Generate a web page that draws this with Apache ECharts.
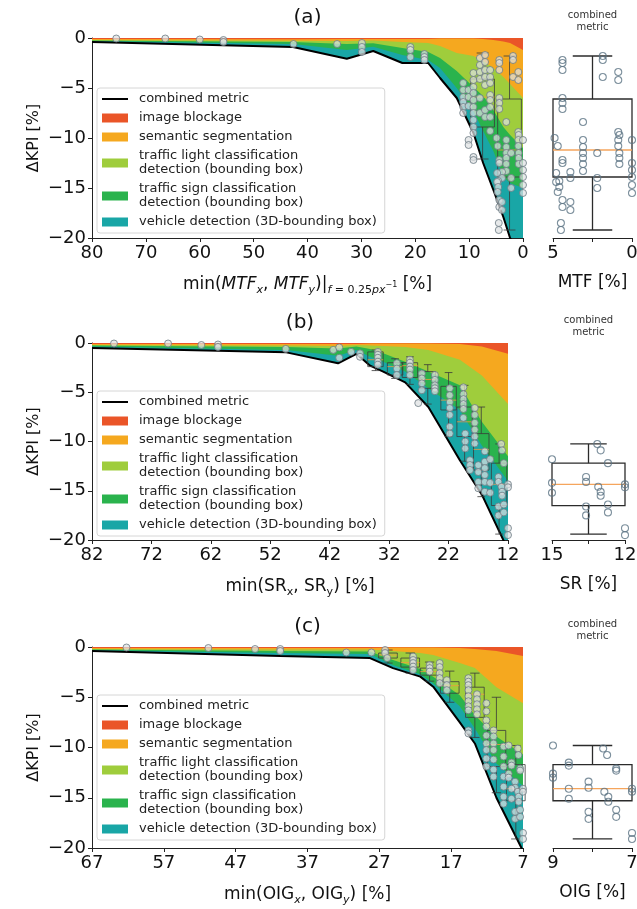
<!DOCTYPE html>
<html lang="en">
<head>
<meta charset="UTF-8">
<title>KPI degradation</title>
<script src="https://cdn.jsdelivr.net/npm/echarts@6/dist/echarts.min.js"></script>
<style>
  html, body { margin: 0; padding: 0; background: #fff; }
  #main { width: 637px; height: 909px; }
</style>
</head>
<body>
<div id="main"></div>
<script>
// ---------- data ----------
// (a) MTF
const mtfX        = [80, 42.7, 32.7, 27.8, 22.4, 17.6, 15.4, 12.3, 9.2, 7.4, 5.5, 3.65, 2.4, 0];
const mtfBlockage = [-0.1, -0.13, -0.1, -0.1, -0.1, -0.1, -0.05, -0.05, -0.05, -0.1, -0.2, -0.35, -0.5, -1.2];
const mtfSemantic = [-0.1, -0.14, -0.2, -0.15, -0.3, -0.4, -0.75, -1.45, -1.75, -2.2, -2.8, -3.55, -4.1, -4.8];
const mtfLight    = [-0.05, -0.13, -0.3, -0.28, -0.6, -0.9, -1.2, -1.8, -3.1, -3.5, -4.2, -5.0, -5.1, -5.0];
const mtfSign     = [-0.05, -0.2, -0.6, -0.34, -0.7, -0.8, -1.0, -1.7, -2.4, -3.5, -4.1, -5.0, -4.8, -4.0];
const mtfVehicle  = [-0.1, -0.3, -0.87, -0.43, -0.8, -0.3, -1.0, -1.0, -2.2, -3.2, -3.9, -4.0, -5.5, -7.0];
const mtfPoints = [
  [75.5, -0.05], [66.4, -0.05], [60.0, -0.15], [55.6, -0.2], [55.6, -0.4], [42.6, -0.6], [34.5, -0.6],
  [29.9, -0.5], [29.9, -0.9], [29.9, -1.4], [20.9, -0.9], [20.9, -1.2], [20.9, -1.9],
  [18.3, -1.6], [18.3, -1.9], [18.3, -2.2],
  [11.1, -4.5], [11.1, -5.2], [11.1, -5.9], [11.1, -6.4], [11.1, -6.9], [11.1, -7.5],
  [10.1, -5.2], [10.1, -5.9], [10.1, -6.8], [10.1, -10.2], [10.1, -10.7],
  [9.2, -3.5], [9.2, -4.2], [9.2, -4.9], [9.2, -5.5], [9.2, -6.2], [9.2, -6.9], [9.2, -7.5],
  [9.2, -8.2], [9.2, -8.9], [9.2, -9.5], [9.2, -11.9], [9.2, -12.2],
  [8.0, -2.0], [8.0, -2.7], [8.0, -3.4], [8.0, -4.1], [8.0, -6.0], [8.0, -7.5],
  [7.05, -1.7], [7.05, -2.4], [7.05, -3.2], [7.05, -3.9], [7.05, -4.7], [7.05, -7.2], [7.05, -7.9],
  [6.1, -3.2], [6.1, -3.9], [6.1, -4.5], [6.1, -5.7], [6.1, -6.2], [6.1, -6.9], [6.1, -7.9], [6.1, -9.3]
];
const mtfSidePoints = [
  [4.4, -2.2], [4.4, -2.5], [4.4, -3.2], [1.85, -1.8], [1.85, -2.2], [1.85, -3.9], [0.87, -3.4], [0.87, -4.2],
  [4.4, -6.0], [4.4, -6.5], [4.4, -7.1], [3.1, -8.4], [4.9, -10.0], [4.7, -10.8], [4.4, -12.2], [4.4, -12.5],
  [3.1, -10.2], [3.1, -10.9], [3.1, -11.5], [3.1, -12.0], [3.1, -12.6], [3.1, -13.3], [2.2, -11.5],
  [0.87, -9.4], [0.8, -9.7], [0.87, -10.2], [0.87, -10.8], [0.8, -11.5], [0.8, -12.0], [0.8, -12.6],
  [0, -10.2], [0, -12.5], [0, -13.2], [0, -13.9], [0, -14.7], [0, -15.5], [3.9, -13.4], [3.9, -14.0],
  [4.8, -13.5], [4.6, -14.3], [4.8, -14.4], [4.6, -14.9], [4.7, -15.4], [4.4, -16.2], [4.4, -16.9],
  [3.9, -16.4], [3.9, -17.2], [2.2, -14.0], [2.2, -15.0], [4.5, -18.5], [4.5, -19.2]
];
// box: [centre, low whisker, q1, median, q3, high whisker]
const mtfBoxes = [[7.5, -12.1, -8.9, -5.9, -4.1, -1.5], [2.5, -19.2, -13.9, -11.2, -6.1, -1.8]];

// (b) SR
const srX        = [82, 49.3, 40.6, 37.5, 35.2, 33, 29.3, 25.4, 20.1, 16.4, 12];
const srBlockage = [-0.1, -0.1, -0.1, -0.1, -0.05, -0.05, -0.05, -0.05, -0.1, -0.35, -1.1];
const srSemantic = [-0.1, -0.15, -0.2, -0.1, -0.2, -0.25, -0.35, -0.65, -1.6, -2.95, -5.1];
const srLight    = [-0.05, -0.15, -0.25, -0.15, -0.35, -0.75, -1.5, -2.2, -2.6, -4.7, -5.3];
const srSign     = [-0.1, -0.3, -0.75, -0.35, -0.8, -0.85, -1.0, -1.7, -2.5, -2.4, -2.5];
const srVehicle  = [-0.15, -0.25, -0.76, -0.4, -0.9, -1.0, -1.1, -1.9, -5.1, -5.0, -7.0];
const srPoints = [
  [78.3, -0.05], [69.2, -0.05], [63.6, -0.2], [60.8, -0.15], [60.8, -0.4], [49.4, -0.6], [41.4, -0.7],
  [40.4, -0.45], [40.4, -1.5], [38.4, -0.9], [36.9, -1.05], [36.9, -1.4],
  [33.9, -0.9], [33.9, -1.2], [33.9, -1.5], [33.9, -1.9], [33.9, -2.2],
  [30.7, -2.05], [30.7, -2.6], [30.7, -3.25],
  [28.5, -1.7], [28.5, -2.0], [28.5, -2.4], [28.5, -2.7], [28.5, -3.25],
  [26.5, -3.1], [26.5, -3.6], [26.5, -4.1], [26.5, -4.8], [27.1, -6.1],
  [24.3, -3.25], [24.3, -3.75], [24.3, -4.3], [24.3, -4.6], [24.3, -4.9],
  [21.8, -4.6], [21.8, -5.3], [21.8, -6.0], [21.8, -6.6], [21.8, -7.3], [21.8, -8.5], [21.8, -9.2],
  [19.5, -4.5], [19.5, -5.2], [19.5, -5.7], [19.5, -6.2], [19.5, -6.7], [19.5, -7.6],
  [19.2, -9.2], [19.2, -10.0], [19.2, -10.7], [18.4, -11.9], [18.4, -12.4], [18.4, -12.9],
  [17.6, -6.6], [17.6, -7.3], [17.6, -8.1], [17.6, -8.8], [17.6, -9.5], [17.6, -10.2],
  [17.0, -12.4], [17.0, -13.1], [17.0, -14.1], [17.0, -14.75],
  [15.9, -11.0], [15.9, -12.05], [15.9, -12.7], [15.9, -13.4], [15.9, -14.1], [15.9, -15.1]
];
const srSidePoints = [
  [13.14, -10.25], [13.0, -10.9], [15, -11.8], [12.7, -12.2], [15, -14.2], [15, -15.2], [13.6, -13.6],
  [13.6, -14.1], [13.1, -14.6], [13.0, -15.1], [13.0, -15.5], [12, -14.35], [12, -14.65], [13.6, -16.6],
  [13.6, -17.5], [12.7, -16.4], [12.7, -17.2], [12, -18.8], [12, -19.5]
];
const srBoxes = [
  [34.3, -2.8, -2.4, -1.7, -0.9, -0.7], [31, -3.6, -3.25, -2.4, -2.0, -1.6], [28.5, -4.2, -3.5, -2.3, -2.0, -1.4],
  [25.5, -6.2, -4.6, -3.7, -2.9, -2.2], [22, -9.5, -6.8, -5.8, -4.4, -3.0], [19.3, -12.0, -9.5, -8.0, -6.5, -4.3],
  [16.5, -15.6, -12.9, -10.8, -9.2, -6.5], [13.5, -19.4, -16.5, -14.35, -12.2, -10.25]
];

// (c) OIG
const oigX        = [67, 40.8, 28.3, 25.1, 21.3, 19.5, 15.8, 13.7, 10.7, 7];
const oigBlockage = [-0.1, -0.1, -0.1, -0.05, -0.05, -0.05, -0.1, -0.2, -0.4, -0.9];
const oigSemantic = [-0.1, -0.15, -0.15, -0.35, -0.55, -0.75, -1.5, -1.9, -3.6, -4.7];
const oigLight    = [-0.05, -0.15, -0.2, -0.9, -1.6, -2.15, -3.2, -4.7, -4.9, -5.1];
const oigSign     = [-0.05, -0.2, -0.25, -0.5, -0.5, -0.65, -1.1, -1.3, -2.7, -3.1];
const oigVehicle  = [-0.1, -0.3, -0.4, -0.3, -0.25, -0.35, -1.6, -1.5, -3.4, -6.5];
const oigPoints = [
  [62.2, -0.05], [50.8, -0.1], [44.3, -0.2], [40.8, -0.2], [40.8, -0.4], [31.6, -0.55], [28.1, -0.55],
  [26.2, -0.3], [26.2, -0.6], [25.9, -1.1],
  [22.3, -0.95], [22.3, -1.3], [22.3, -1.6], [22.3, -1.95], [22.3, -2.3],
  [20, -1.8], [20, -2.1], [20, -2.45],
  [18.6, -1.6], [18.6, -2.0], [18.6, -2.6], [18.6, -3.1], [18.6, -3.6], [17.6, -3.3], [17.6, -3.8], [17.6, -4.3],
  [14.6, -3.1], [14.6, -3.45], [14.6, -3.8], [14.6, -4.3], [14.6, -4.9], [14.6, -5.4], [14.6, -5.9], [14.6, -6.3],
  [14.6, -8.3], [14.6, -8.6],
  [13.4, -4.7], [13.4, -5.2], [13.4, -5.7], [13.4, -6.2], [13.4, -6.7],
  [12.1, -5.6], [12.1, -6.4], [12.1, -7.3], [12.1, -7.9], [12.1, -8.8], [12.1, -9.6], [12.1, -10.25], [12.1, -11.1], [12.1, -11.9],
  [11.1, -8.3], [11.1, -8.9], [11.1, -9.6], [11.1, -10.25], [11.1, -11.2], [11.1, -12.2], [11.1, -12.9],
  [9.7, -9.9], [9.7, -10.9], [9.7, -11.9], [9.7, -12.9], [9.7, -13.9], [9.7, -14.9], [9.7, -15.6]
];
const oigSidePoints = [
  [9, -9.8], [7.73, -10.1], [7.63, -10.75], [8.6, -11.5], [8.6, -11.8], [9, -12.6], [9, -13.0], [7.4, -12.1],
  [7.4, -12.3], [8.1, -13.4], [8.1, -14.0], [8.6, -14.1], [8.6, -15.1], [7.7, -14.4], [7.6, -14.9], [7.6, -15.4],
  [7.0, -14.1], [7.0, -14.4], [8.1, -16.4], [8.1, -17.1], [7.4, -16.2], [7.4, -16.9], [7.0, -18.5], [7.0, -19.1]
];
const oigBoxes = [
  [25.8, -1.6, -1.1, -0.8, -0.6, -0.3], [22.7, -2.6, -2.0, -1.55, -1.1, -0.6], [20, -3.4, -2.8, -2.45, -2.1, -1.5],
  [17.2, -5.5, -4.6, -3.85, -3.45, -2.4], [13.7, -9.0, -7.0, -4.7, -4.0, -2.6], [10.7, -14.5, -11.9, -9.7, -8.3, -5.0],
  [8, -19.1, -15.3, -14.1, -11.7, -9.8]
];

const layerNames = ['image blockage', 'semantic segmentation',
  'traffic light classification\ndetection (bounding box)',
  'traffic sign classification\ndetection (bounding box)',
  'vehicle detection (3D-bounding box)'];
const layerColors = ['#ea5528', '#f5a81f', '#9fcd3c', '#2ab34d', '#19a6a6'];
const yTicks = [-20, 0, 5];

const fontFamily = 'DejaVu Sans';
const ink = '#111';

const panels = [
  { x: mtfX, layers: [mtfBlockage, mtfSemantic, mtfLight, mtfSign, mtfVehicle], points: mtfPoints,
    side: mtfSidePoints, boxes: mtfBoxes, boxW: 4.4, sideW: 5,
    grid: [92, 38, 431, 200], sideGrid: [553, 38, 79, 200], range: [0, 80], sideRange: [0, 5, 2.5],
    title: '(a)', sideName: 'MTF [%]',
    xName: '{t|min(}{i|MTF}{s|x}{t|, }{i|MTF}{s|y}{t|)|}{s|f}{u| = 0.25}{s|px}{p|−1}{t| [%]}' },
  { x: srX, layers: [srBlockage, srSemantic, srLight, srSign, srVehicle], points: srPoints,
    side: srSidePoints, boxes: srBoxes, boxW: 2.6, sideW: 3,
    grid: [92, 343, 416, 197], sideGrid: [552, 343, 73, 197], range: [12, 82], sideRange: [12, 15, 1.5],
    title: '(b)', sideName: 'SR [%]',
    xName: '{t|min(SR}{u|x}{t|, SR}{u|y}{t|) [%]}' },
  { x: oigX, layers: [oigBlockage, oigSemantic, oigLight, oigSign, oigVehicle], points: oigPoints,
    side: oigSidePoints, boxes: oigBoxes, boxW: 2.6, sideW: 2,
    grid: [92, 647, 431, 201], sideGrid: [553, 647, 79, 201], range: [7, 67], sideRange: [7, 9, 1],
    title: '(c)', sideName: 'OIG [%]',
    xName: '{t|min(OIG}{s|x}{t|, OIG}{s|y}{t|) [%]}' }
];

const nameRich = {
  t: { fontSize: 17, lineHeight: 22, color: ink, fontFamily },
  i: { fontSize: 17, lineHeight: 22, color: ink, fontFamily, fontStyle: 'italic' },
  s: { fontSize: 11, lineHeight: 11, color: ink, fontFamily, fontStyle: 'italic', verticalAlign: 'bottom' },
  u: { fontSize: 11, lineHeight: 11, color: ink, fontFamily, verticalAlign: 'bottom' },
  p: { fontSize: 8, lineHeight: 10, color: ink, fontFamily, verticalAlign: 'middle' }
};

function boxRenderer(width, st) {
  return function (params, api) {
    const c = api.value(0);
    const a = api.coord([c - width / 2, api.value(4)]);
    const b = api.coord([c + width / 2, api.value(2)]);
    const x0 = Math.min(a[0], b[0]), x1 = Math.max(a[0], b[0]);
    const xm = api.coord([c, 0])[0];
    const yLo = api.coord([c, api.value(1)])[1];
    const yHi = api.coord([c, api.value(5)])[1];
    const yMed = api.coord([c, api.value(3)])[1];
    const cap = (x1 - x0) / 4;
    const ls = { stroke: st.stroke, lineWidth: st.width, fill: null };
    return {
      type: 'group',
      children: [
        { type: 'rect', shape: { x: x0, y: a[1], width: x1 - x0, height: b[1] - a[1] }, style: { stroke: st.stroke, lineWidth: st.width, fill: 'none' } },
        { type: 'line', shape: { x1: xm, y1: a[1], x2: xm, y2: yHi }, style: ls },
        { type: 'line', shape: { x1: xm, y1: b[1], x2: xm, y2: yLo }, style: ls },
        { type: 'line', shape: { x1: xm - cap, y1: yHi, x2: xm + cap, y2: yHi }, style: ls },
        { type: 'line', shape: { x1: xm - cap, y1: yLo, x2: xm + cap, y2: yLo }, style: ls },
        { type: 'line', shape: { x1: x0, y1: yMed, x2: x1, y2: yMed }, style: { stroke: st.median, lineWidth: st.width } }
      ]
    };
  };
}

const axisLineStyle = { color: '#222', width: 1 };
const grids = [], xAxes = [], yAxes = [], series = [], legends = [], graphics = [];

panels.forEach((p, k) => {
  const gi = 2 * k, si = 2 * k + 1;
  grids.push({ left: p.grid[0], top: p.grid[1], width: p.grid[2], height: p.grid[3], containLabel: false, outerBoundsMode: 'none' });
  grids.push({ left: p.sideGrid[0], top: p.sideGrid[1], width: p.sideGrid[2], height: p.sideGrid[3], containLabel: false, outerBoundsMode: 'none' });

  xAxes.push({
    gridIndex: gi, type: 'value', min: p.range[0], max: p.range[1], interval: 10, inverse: true,
    axisLine: { show: true, onZero: false, lineStyle: axisLineStyle },
    axisTick: { show: true, length: 4, lineStyle: axisLineStyle },
    splitLine: { show: false },
    axisLabel: { fontSize: 18, color: ink, fontFamily, margin: 6, showMinLabel: true, showMaxLabel: true },
    name: p.xName, nameLocation: 'middle', nameGap: 36, nameMoveOverlap: false,
    nameTextStyle: { rich: nameRich }
  });
  xAxes.push({
    gridIndex: si, type: 'value', min: p.sideRange[0], max: p.sideRange[1], interval: p.sideRange[2], inverse: true,
    axisLine: { show: true, onZero: false, lineStyle: axisLineStyle },
    axisTick: { show: true, length: 4, lineStyle: axisLineStyle },
    splitLine: { show: false },
    axisLabel: {
      fontSize: 18, color: ink, fontFamily, margin: 6, showMinLabel: true, showMaxLabel: true,
      formatter: v => (v === p.sideRange[0] || v === p.sideRange[1]) ? String(v) : ''
    },
    name: p.sideName, nameLocation: 'middle', nameGap: 36, nameMoveOverlap: false,
    nameTextStyle: { fontSize: 17, color: ink, fontFamily }
  });
  yAxes.push({
    gridIndex: gi, type: 'value', min: yTicks[0], max: yTicks[1], interval: yTicks[2],
    axisLine: { show: true, onZero: false, lineStyle: axisLineStyle },
    axisTick: { show: true, length: 4, lineStyle: axisLineStyle },
    splitLine: { show: false },
    axisLabel: { fontSize: 18, color: ink, fontFamily, margin: 6, formatter: v => String(v).replace('-', '\u2212') },
    name: '\u0394KPI [%]', nameLocation: 'middle', nameGap: 50, nameMoveOverlap: false,
    nameTextStyle: { fontSize: 16, color: ink, fontFamily }
  });
  yAxes.push({ gridIndex: si, type: 'value', min: yTicks[0], max: yTicks[1], show: false });

  // running totals of the contributions; each band is painted from 0 down to its
  // running total, deepest first, so the next one covers everything above it
  const totals = p.layers.map((l, j) =>
    p.x.map((x, i) => p.layers.slice(0, j + 1).reduce((s, ll) => s + ll[i], 0)));
  for (let j = p.layers.length - 1; j >= 0; j--) {
    series.push({
      type: 'line', name: layerNames[j], xAxisIndex: gi, yAxisIndex: gi,
      data: p.x.map((x, i) => [x, totals[j][i]]),
      symbol: 'none', silent: true, z: 1 + (p.layers.length - 1 - j) * 0.1,
      lineStyle: { width: 0 }, itemStyle: { color: layerColors[j] },
      areaStyle: { color: layerColors[j], opacity: 1, origin: 'end' }
    });
  }
  // combined metric = bottom of all contributions
  series.push({
    type: 'line', name: 'combined metric', xAxisIndex: gi, yAxisIndex: gi,
    data: p.x.map((x, i) => [x, totals[totals.length - 1][i]]),
    symbol: 'none', silent: true, z: 3,
    lineStyle: { color: '#000', width: 2 }, itemStyle: { color: '#000' }
  });
  series.push({
    type: 'custom', xAxisIndex: gi, yAxisIndex: gi, silent: true, z: 4,
    renderItem: boxRenderer(p.boxW, { stroke: '#3a3a3a', width: 0.8, median: '#f39a3d' }),
    encode: { x: 0, y: [1, 2, 3, 4, 5] }, data: p.boxes
  });
  series.push({
    type: 'scatter', xAxisIndex: gi, yAxisIndex: gi, silent: true, z: 5,
    data: p.points.concat(p.side), symbolSize: 7,
    itemStyle: { color: 'rgba(222,225,226,0.9)', borderColor: '#6c7b83', borderWidth: 1 }
  });
  // side panel
  series.push({
    type: 'custom', xAxisIndex: si, yAxisIndex: si, silent: true, z: 4,
    renderItem: boxRenderer(p.sideW, { stroke: '#2b2b2b', width: 1.3, median: '#f5a55c' }),
    encode: { x: 0, y: [1, 2, 3, 4, 5] }, data: [p.boxes[p.boxes.length - 1]]
  });
  series.push({
    type: 'scatter', xAxisIndex: si, yAxisIndex: si, silent: true, z: 5,
    data: p.side, symbolSize: 7,
    itemStyle: { color: 'rgba(255,255,255,0)', borderColor: '#5d7484', borderWidth: 1.1 }
  });

  legends.push({
    left: p.grid[0] + 5, top: p.grid[1] + (k === 0 ? 50 : 48), orient: 'vertical', selectedMode: false,
    itemWidth: 26, itemHeight: 9, itemGap: 5, padding: [4, 8, 4, 5],
    backgroundColor: 'rgba(255,255,255,0.85)', borderColor: '#d6d6d6', borderWidth: 1, borderRadius: 3,
    textStyle: { fontSize: 13, lineHeight: 14, color: '#222', fontFamily, padding: [0, 0, 0, 6] },
    data: [{ name: 'combined metric', icon: 'path://M0,0L26,0L26,0.01L0,0.01ZM0,3.6L26,3.6L26,5.4L0,5.4ZM0,8.99L26,8.99L26,9L0,9Z' }]
      .concat(layerNames.map(n => ({ name: n, icon: 'rect' })))
  });

  const cx = p.grid[0] + p.grid[2] / 2;
  const scx = p.sideGrid[0] + p.sideGrid[2] / 2;
  graphics.push({ type: 'text', x: cx, y: p.grid[1] - 20, silent: true,
    style: { text: p.title, fontSize: 20, fontFamily, fill: ink, align: 'center', verticalAlign: 'middle' } });
  graphics.push({ type: 'text', x: scx, y: p.grid[1] - 17, silent: true,
    style: { text: 'combined\nmetric', fontSize: 10, lineHeight: 12, fontFamily, fill: '#333', align: 'center', verticalAlign: 'middle' } });
});

const chart = echarts.init(document.getElementById('main'), null, { renderer: 'canvas' });
chart.setOption({
  backgroundColor: '#fff',
  animation: false,
  textStyle: { fontFamily },
  grid: grids,
  xAxis: xAxes,
  yAxis: yAxes,
  legend: legends,
  graphic: graphics,
  series: series
});
</script>
</body>
</html>
